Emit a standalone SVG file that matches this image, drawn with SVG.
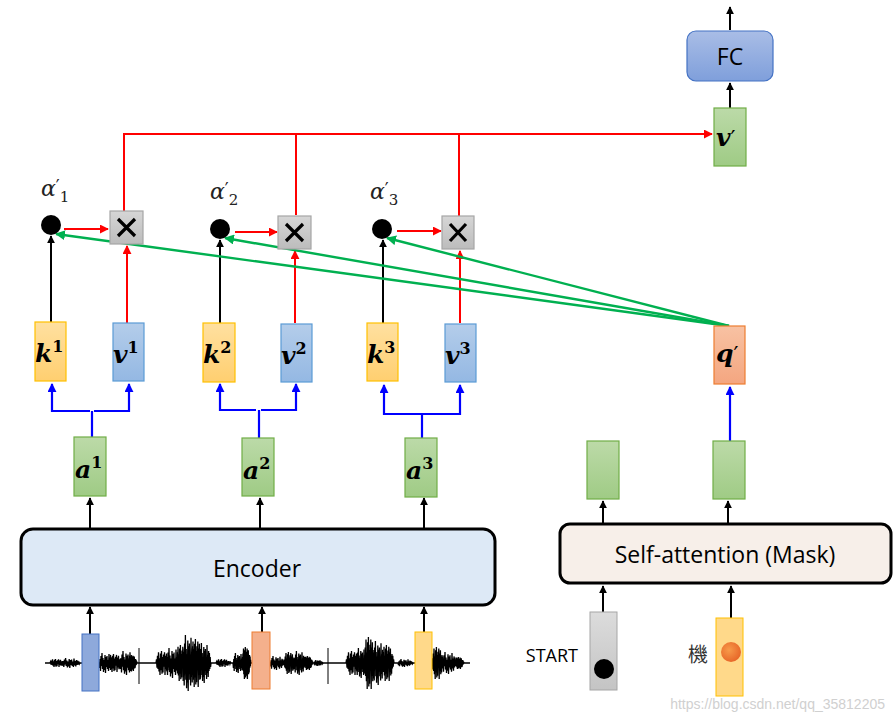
<svg xmlns="http://www.w3.org/2000/svg" xmlns:xlink="http://www.w3.org/1999/xlink" width="895" height="720" viewBox="0 0 895 720">
<style>
.k{fill:url(#gk);stroke:#ffc000;stroke-width:1.2}
.v{fill:url(#gv);stroke:#5b9bd5;stroke-width:1.2}
.g{fill:url(#gg);stroke:#70ad47;stroke-width:1.2}
.x{fill:url(#gx);stroke:#a6a6a6;stroke-width:1.2}
.m{font-family:"DejaVu Serif","Liberation Serif",serif;font-weight:bold;font-style:italic;font-size:25px;fill:#000}
.sup{font-size:16px;font-style:normal}
.pr{font-family:"DejaVu Sans",sans-serif;font-style:normal;font-weight:normal}
.al{font-family:"DejaVu Serif","Liberation Serif",serif;font-style:italic;font-size:22px;fill:#222}
.lab{font-family:"Open Sans","Noto Sans","Liberation Sans",sans-serif;font-size:23px;fill:#000}
.blk{stroke:#000;stroke-width:2;fill:none;marker-end:url(#ab)}
.red{stroke:#ff0000;stroke-width:2;fill:none}
.ra{marker-end:url(#ar)}
.blu{stroke:#0000ff;stroke-width:2.2;fill:none}
.ba{marker-end:url(#abl)}
.grn{stroke:#00b050;stroke-width:2.4;fill:none;marker-end:url(#ag)}
.w{fill:none;stroke:#000;stroke-width:1.3;vector-effect:non-scaling-stroke}
</style>
<defs>
<linearGradient id="gk" x1="0" y1="0" x2="0" y2="1"><stop offset="0" stop-color="#ffe0a0"/><stop offset="1" stop-color="#ffcf70"/></linearGradient>
<linearGradient id="gv" x1="0" y1="0" x2="0" y2="1"><stop offset="0" stop-color="#b4cdea"/><stop offset="1" stop-color="#94b8e3"/></linearGradient>
<linearGradient id="gg" x1="0" y1="0" x2="0" y2="1"><stop offset="0" stop-color="#bcdaa8"/><stop offset="1" stop-color="#9fcb85"/></linearGradient>
<linearGradient id="gq" x1="0" y1="0" x2="0" y2="1"><stop offset="0" stop-color="#f8c2a3"/><stop offset="1" stop-color="#f4a680"/></linearGradient>
<linearGradient id="gx" x1="0" y1="0" x2="0" y2="1"><stop offset="0" stop-color="#d6d6d6"/><stop offset="1" stop-color="#bcbcbc"/></linearGradient>
<linearGradient id="gfc" x1="0" y1="0" x2="0" y2="1"><stop offset="0" stop-color="#a9bde6"/><stop offset="1" stop-color="#7f9fdb"/></linearGradient>
<linearGradient id="gs" x1="0" y1="0" x2="0" y2="1"><stop offset="0" stop-color="#dcdcdc"/><stop offset="1" stop-color="#c4c4c4"/></linearGradient>
<radialGradient id="go" cx="0.4" cy="0.4" r="0.6"><stop offset="0" stop-color="#f79a4a"/><stop offset="1" stop-color="#e8692a"/></radialGradient>
<marker id="ab" viewBox="0 0 10 10" refX="9" refY="5" markerWidth="8" markerHeight="8" markerUnits="userSpaceOnUse" orient="auto"><path d="M0,0 L10,5 L0,10 z" fill="#000"/></marker>
<marker id="ar" viewBox="0 0 10 10" refX="9" refY="5" markerWidth="9" markerHeight="9" markerUnits="userSpaceOnUse" orient="auto"><path d="M0,0 L10,5 L0,10 z" fill="#ff0000"/></marker>
<marker id="abl" viewBox="0 0 10 10" refX="9" refY="5" markerWidth="9" markerHeight="9" markerUnits="userSpaceOnUse" orient="auto"><path d="M0,0 L10,5 L0,10 z" fill="#0000ff"/></marker>
<marker id="ag" viewBox="0 0 10 10" refX="9" refY="5" markerWidth="10" markerHeight="10" markerUnits="userSpaceOnUse" orient="auto"><path d="M0,0 L10,5 L0,10 z" fill="#00b050"/></marker>
<path id="burst" class="w" d="M0,0 L1,-0.3 L2,0.4 L3,-0.6 L4,0.5 L5,-0.9 L6,0.7 L7,-0.4 L8,1 L9,-0.8 L10,0.6 L11,-1 L12,0.9 L13,-0.5 L14,0.8 L15,-0.7 L16,0.3 L17,-0.9 L18,1 L19,-0.6 L20,0.5 L21,-0.8 L22,0.7 L23,-0.4 L24,0.6 L25,-0.5 L26,0.3 L27,-0.4 L28,0.2 L29,-0.2 L30,0"/>
<path id="burst2" class="w" d="M0,0 L1,0.5 L2,-0.4 L3,0.8 L4,-0.7 L5,0.3 L6,-1 L7,0.6 L8,-0.5 L9,0.9 L10,-0.3 L11,0.7 L12,-0.8 L13,1 L14,-0.6 L15,0.4 L16,-0.7 L17,0.6 L18,-0.3 L19,0.8 L20,-0.9 L21,0.5 L22,-0.4 L23,0.7 L24,-0.6 L25,0.4 L26,-0.5 L27,0.3 L28,-0.3 L29,0.2 L30,0"/>
</defs>

<!-- waveform -->
<g id="waveform">
<line x1="45" y1="663" x2="470" y2="663" stroke="#000" stroke-width="1.5"/>
<use xlink:href="#burst" transform="translate(50,663) scale(0.5,4)"/>
<use xlink:href="#burst2" transform="translate(62,663) scale(0.6,5)"/>
<use xlink:href="#burst2" transform="translate(99,663) scale(0.5,10)"/>
<use xlink:href="#burst" transform="translate(108,663) scale(0.5,9)"/>
<use xlink:href="#burst2" transform="translate(120,663) scale(0.5,12)"/>
<use xlink:href="#burst" transform="translate(128,663) scale(0.3,8)"/>
<line x1="139" y1="648" x2="139" y2="684" stroke="#000" stroke-width="1"/>
<use xlink:href="#burst" transform="translate(156,663) scale(0.5,12)"/>
<use xlink:href="#burst2" transform="translate(166,663) scale(0.5,15)"/>
<use xlink:href="#burst" transform="translate(176,663) scale(0.4,18)"/>
<use xlink:href="#burst2" transform="translate(183,663) scale(0.4,28)"/>
<use xlink:href="#burst" transform="translate(191,663) scale(0.4,24)"/>
<use xlink:href="#burst2" transform="translate(199,663) scale(0.4,20)"/>
<use xlink:href="#burst" transform="translate(216,663) scale(0.5,4)"/>
<use xlink:href="#burst2" transform="translate(233,663) scale(0.4,10)"/>
<use xlink:href="#burst" transform="translate(242,663) scale(0.3,16)"/>
<use xlink:href="#burst2" transform="translate(270,663) scale(0.5,7)"/>
<use xlink:href="#burst" transform="translate(284,663) scale(0.4,11)"/>
<use xlink:href="#burst2" transform="translate(294,663) scale(0.4,12)"/>
<use xlink:href="#burst" transform="translate(304,663) scale(0.3,7)"/>
<use xlink:href="#burst2" transform="translate(314,663) scale(0.3,3)"/>
<line x1="328" y1="648" x2="328" y2="684" stroke="#000" stroke-width="1"/>
<use xlink:href="#burst" transform="translate(346,663) scale(0.5,12)"/>
<use xlink:href="#burst2" transform="translate(356,663) scale(0.4,15)"/>
<use xlink:href="#burst" transform="translate(364,663) scale(0.4,26)"/>
<use xlink:href="#burst2" transform="translate(373,663) scale(0.4,22)"/>
<use xlink:href="#burst" transform="translate(382,663) scale(0.4,18)"/>
<use xlink:href="#burst2" transform="translate(398,663) scale(0.5,4)"/>
<use xlink:href="#burst" transform="translate(432,663) scale(0.4,16)"/>
<use xlink:href="#burst2" transform="translate(442,663) scale(0.5,11)"/>
<use xlink:href="#burst" transform="translate(455,663) scale(0.3,6)"/>
</g>

<!-- connectors -->
<g id="connectors">
<line class="blk" x1="90" y1="634" x2="90" y2="607"/>
<line class="blk" x1="262" y1="632" x2="262" y2="607"/>
<line class="blk" x1="424" y1="632" x2="424" y2="607"/>
<line class="blk" x1="90" y1="529" x2="90" y2="498"/>
<line class="blk" x1="260" y1="529" x2="260" y2="498"/>
<line class="blk" x1="424" y1="529" x2="424" y2="498"/>
<path class="blu" d="M92,437 V411"/>
<path class="blu ba" d="M90,411 H52 V384"/>
<path class="blu ba" d="M94,411 H129 V384"/>
<path class="blu" d="M259,438 V410"/>
<path class="blu ba" d="M256,410 H220 V384"/>
<path class="blu ba" d="M261,410 H296 V384"/>
<path class="blu" d="M422,438 V414"/>
<path class="blu ba" d="M422,414 H384 V385"/>
<path class="blu ba" d="M422,414 H460 V385"/>
<line class="blk" x1="51" y1="322" x2="51" y2="236"/>
<line class="blk" x1="220" y1="323" x2="220" y2="240"/>
<line class="blk" x1="383" y1="323" x2="383" y2="240"/>
<line class="red ra" x1="127" y1="323" x2="127" y2="246"/>
<line class="red ra" x1="295" y1="323" x2="295" y2="251"/>
<line class="red ra" x1="460" y1="323" x2="460" y2="251"/>
<line class="red ra" x1="64" y1="229" x2="108" y2="229"/>
<line class="red ra" x1="235" y1="232" x2="277" y2="232"/>
<line class="red ra" x1="397" y1="231" x2="441" y2="231"/>
<path class="red" d="M124,211 V134 H296 M296,215 V134 M459,216 V134"/>
<line class="red ra" x1="124" y1="134" x2="712" y2="134"/>
<line class="grn" x1="729" y1="326" x2="56" y2="234"/>
<line class="grn" x1="729" y1="326" x2="225" y2="238"/>
<line class="grn" x1="729" y1="326" x2="387" y2="238"/>
<line class="blk" x1="730" y1="108" x2="730" y2="83"/>
<line class="blk" x1="730" y1="30" x2="730" y2="7"/>
<line class="blu ba" x1="730" y1="441" x2="730" y2="387"/>
<line class="blk" x1="603" y1="524" x2="603" y2="501"/>
<line class="blk" x1="728" y1="524" x2="728" y2="501"/>
<line class="blk" x1="603" y1="612" x2="603" y2="586"/>
<line class="blk" x1="731" y1="618" x2="731" y2="586"/>
</g>

<g id="bar1"><rect x="82" y="634" width="17" height="57" fill="#8ea9db" stroke="#4472c4" stroke-width="1"/></g>
<g id="bar2"><rect x="252" y="632" width="18" height="57" fill="#f4b08c" stroke="#ed7d31" stroke-width="1"/></g>
<g id="bar3"><rect x="415" y="632" width="17" height="57" fill="#ffd98a" stroke="#ffc000" stroke-width="1"/></g>

<g id="encoder">
<rect x="21" y="529" width="474" height="76" rx="12" fill="#dde9f6" stroke="#000" stroke-width="3"/>
<text class="lab" x="257" y="577" text-anchor="middle">Encoder</text>
</g>

<g id="a1"><rect class="g" x="74" y="437" width="32" height="59"/><text class="m" x="75" y="478">a<tspan class="sup" dy="-10">1</tspan></text></g>
<g id="a2"><rect class="g" x="242" y="438" width="32" height="58"/><text class="m" x="243" y="479">a<tspan class="sup" dy="-10">2</tspan></text></g>
<g id="a3"><rect class="g" x="405" y="438" width="32" height="59"/><text class="m" x="406" y="479">a<tspan class="sup" dy="-10">3</tspan></text></g>

<g id="k1"><rect class="k" x="35" y="322" width="31" height="59"/><text class="m" x="35" y="362">k<tspan class="sup" dy="-10">1</tspan></text></g>
<g id="k2"><rect class="k" x="203" y="323" width="32" height="59"/><text class="m" x="203" y="363">k<tspan class="sup" dy="-10">2</tspan></text></g>
<g id="k3"><rect class="k" x="367" y="323" width="31" height="58"/><text class="m" x="367" y="363">k<tspan class="sup" dy="-10">3</tspan></text></g>

<g id="v1"><rect class="v" x="113" y="323" width="31" height="58"/><text class="m" x="113" y="363">v<tspan class="sup" dy="-10">1</tspan></text></g>
<g id="v2"><rect class="v" x="281" y="324" width="31" height="58"/><text class="m" x="281" y="364">v<tspan class="sup" dy="-10">2</tspan></text></g>
<g id="v3"><rect class="v" x="445" y="324" width="31" height="58"/><text class="m" x="445" y="364">v<tspan class="sup" dy="-10">3</tspan></text></g>

<g id="alpha1"><circle cx="51" cy="225" r="10" fill="#000"/><text class="al" x="41" y="196">α<tspan class="pr" font-size="17" dy="-4">′</tspan><tspan font-style="normal" font-size="15" dx="0" dy="10">1</tspan></text></g>
<g id="alpha2"><circle cx="220" cy="229" r="10" fill="#000"/><text class="al" x="210" y="199">α<tspan class="pr" font-size="17" dy="-4">′</tspan><tspan font-style="normal" font-size="15" dx="0" dy="10">2</tspan></text></g>
<g id="alpha3"><circle cx="382" cy="229" r="10" fill="#000"/><text class="al" x="370" y="199">α<tspan class="pr" font-size="17" dy="-4">′</tspan><tspan font-style="normal" font-size="15" dx="0" dy="10">3</tspan></text></g>

<g id="mul1"><rect class="x" x="110" y="211" width="33" height="33"/><path d="M118,219 L135,236 M135,219 L118,236" stroke="#000" stroke-width="3.2"/></g>
<g id="mul2"><rect class="x" x="278" y="216" width="33" height="33"/><path d="M286,224 L303,241 M303,224 L286,241" stroke="#000" stroke-width="3.2"/></g>
<g id="mul3"><rect class="x" x="442" y="216" width="32" height="33"/><path d="M450,224 L466,241 M466,224 L450,241" stroke="#000" stroke-width="3.2"/></g>

<g id="vprime"><rect class="g" x="714" y="108" width="32" height="58"/><text class="m" x="716" y="146">v<tspan class="pr" font-size="22">′</tspan></text></g>

<g id="fc"><rect x="687" y="31" width="86" height="50" rx="9" fill="url(#gfc)" stroke="#4472c4" stroke-width="1.2"/><text class="lab" x="730" y="65" text-anchor="middle">FC</text></g>

<g id="qprime"><rect x="714" y="326" width="31" height="58" fill="url(#gq)" stroke="#ed7d31" stroke-width="1.2"/><text class="m" x="716" y="362">q<tspan class="pr" font-size="22">′</tspan></text></g>

<g id="h1"><rect class="g" x="587" y="441" width="32" height="58"/></g>
<g id="h2"><rect class="g" x="713" y="441" width="32" height="58"/></g>

<g id="selfattn">
<rect x="560" y="524" width="331" height="59" rx="10" fill="#f7efe9" stroke="#000" stroke-width="3"/>
<text class="lab" x="725" y="563" text-anchor="middle">Self-attention (Mask)</text>
</g>

<g id="start">
<rect x="590" y="612" width="27" height="78" fill="url(#gs)" stroke="#a6a6a6" stroke-width="1"/>
<circle cx="604" cy="669" r="10" fill="#000"/>
<text x="578" y="662" text-anchor="end" font-family="Open Sans, Noto Sans, Liberation Sans, sans-serif" font-size="18" fill="#000">START</text>
</g>

<g id="ji">
<rect x="716" y="618" width="27" height="78" fill="#ffd98a" stroke="#ffc000" stroke-width="1"/>
<circle cx="731" cy="652" r="10" fill="url(#go)"/>
<text x="708" y="662" text-anchor="end" font-family="Noto Sans CJK TC, Noto Sans CJK SC, sans-serif" font-size="20" fill="#333">機</text>
</g>

<text x="885" y="709" text-anchor="end" font-family="Liberation Sans, Arial, sans-serif" font-size="14" fill="#d0d0d0">https://blog.csdn.net/qq_35812205</text>
</svg>
